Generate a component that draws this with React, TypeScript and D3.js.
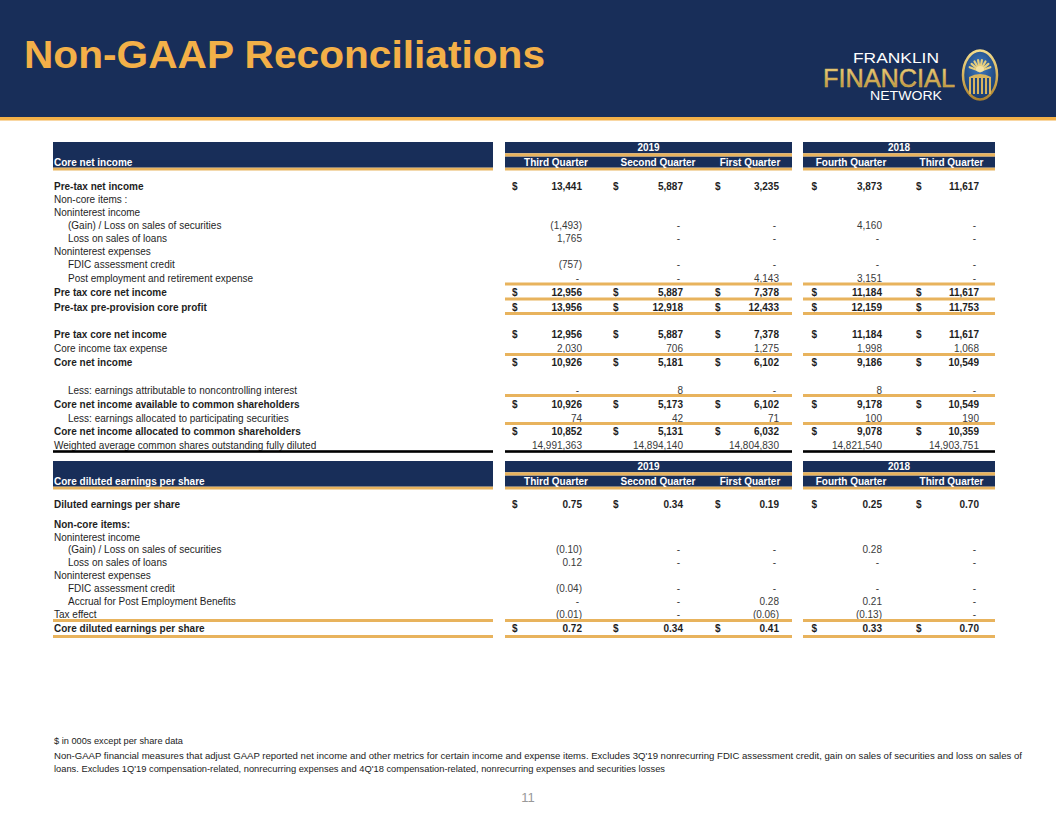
import React from "react";
import * as d3 from "d3";

// ---------- data ----------
const years = ["2019", "2018"];
const quarters = ["Third Quarter", "Second Quarter", "First Quarter", "Fourth Quarter", "Third Quarter"];

// Table 1: Core net income ($ in 000s)
const preTaxNetIncome = [13441, 5887, 3235, 3873, 11617];
const gainLossSecurities = [-1493, 0, 0, 4160, 0];
const lossSalesLoans = [1765, 0, 0, 0, 0];
const fdicCredit = [-757, 0, 0, 0, 0];
const postEmployment = [0, 0, 4143, 3151, 0];
const preTaxCoreNetIncome = [12956, 5887, 7378, 11184, 11617];
const preProvisionCoreProfit = [13956, 12918, 12433, 12159, 11753];
const coreIncomeTax = [2030, 706, 1275, 1998, 1068];
const coreNetIncome = [10926, 5181, 6102, 9186, 10549];
const nonControlling = [0, 8, 0, 8, 0];
const coreAvailable = [10926, 5173, 6102, 9178, 10549];
const participating = [74, 42, 71, 100, 190];
const coreAllocated = [10852, 5131, 6032, 9078, 10359];
const weightedShares = [14991363, 14894140, 14804830, 14821540, 14903751];

// Table 2: Core diluted earnings per share
const dilutedEps = [0.75, 0.34, 0.19, 0.25, 0.7];
const epsGainLoss = [-0.1, 0, 0, 0.28, 0];
const epsLossLoans = [0.12, 0, 0, 0, 0];
const epsFdic = [-0.04, 0, 0, 0, 0];
const epsAccrual = [0, 0, 0.28, 0.21, 0];
const epsTaxEffect = [-0.01, 0, -0.06, -0.13, 0];
const coreDilutedEps = [0.72, 0.34, 0.41, 0.33, 0.7];

const footnotes = [
  "$ in 000s except per share data",
  "Non-GAAP financial measures that adjust GAAP reported net income and other metrics for certain income and expense items. Excludes 3Q'19 nonrecurring FDIC assessment credit, gain on sales of securities and loss on sales of",
  "loans. Excludes 1Q'19 compensation-related, nonrecurring expenses and 4Q'18 compensation-related, nonrecurring expenses and securities losses",
];

type Row = {
  label: string;
  values?: number[];
  bold?: boolean;
  indent?: boolean;
  dollar?: boolean;
};

const table1Rows: Row[] = [
  { label: "Pre-tax net income", values: preTaxNetIncome, bold: true, dollar: true },
  { label: "Non-core items :" },
  { label: "Noninterest income" },
  { label: "(Gain) / Loss on sales of securities", values: gainLossSecurities, indent: true },
  { label: "Loss on sales of loans", values: lossSalesLoans, indent: true },
  { label: "Noninterest expenses" },
  { label: "FDIC assessment credit", values: fdicCredit, indent: true },
  { label: "Post employment and retirement expense", values: postEmployment, indent: true },
  { label: "Pre tax core net income", values: preTaxCoreNetIncome, bold: true, dollar: true },
  { label: "Pre-tax pre-provision core profit", values: preProvisionCoreProfit, bold: true, dollar: true },
  { label: "Pre tax core net income", values: preTaxCoreNetIncome, bold: true, dollar: true },
  { label: "Core income tax expense", values: coreIncomeTax },
  { label: "Core net income", values: coreNetIncome, bold: true, dollar: true },
  { label: "Less: earnings attributable to noncontrolling interest", values: nonControlling, indent: true },
  { label: "Core net income available to common shareholders", values: coreAvailable, bold: true, dollar: true },
  { label: "Less: earnings allocated to participating securities", values: participating, indent: true },
  { label: "Core net income allocated to common shareholders", values: coreAllocated, bold: true, dollar: true },
  { label: "Weighted average common shares outstanding fully diluted", values: weightedShares },
];

const table2Rows: Row[] = [
  { label: "Diluted earnings per share", values: dilutedEps, bold: true, dollar: true },
  { label: "Non-core items:", bold: true },
  { label: "Noninterest income" },
  { label: "(Gain) / Loss on sales of securities", values: epsGainLoss, indent: true },
  { label: "Loss on sales of loans", values: epsLossLoans, indent: true },
  { label: "Noninterest expenses" },
  { label: "FDIC assessment credit", values: epsFdic, indent: true },
  { label: "Accrual for Post Employment Benefits", values: epsAccrual, indent: true },
  { label: "Tax effect", values: epsTaxEffect },
  { label: "Core diluted earnings per share", values: coreDilutedEps, bold: true, dollar: true },
];

// ---------- layout ----------
const W = 1056;
const H = 816;
const NAVY = "#182e59";
const GOLD = "#f3b048";
const LINE_GOLD = "#e8b35d";
const FONT = "Arial, 'Liberation Sans', Helvetica, sans-serif";

const labelX0 = 53;
const labelX1 = 493;
const blocks = [
  { year: years[0], x0: 505, x1: 792, cols: [0, 1, 2] },
  { year: years[1], x0: 803, x1: 995, cols: [3, 4] },
];
const colDollarX = [512, 613, 715, 811.5, 916];
const colValueX = [582, 683, 779, 882, 979];
const colCenterX = [556, 658, 750, 851, 951.5];

const table1Top = 142;
const table1RowY = [186, 199, 212.5, 225.7, 238.5, 251.7, 264.5, 278.5, 292, 307, 334.3, 348.5, 362.5, 390, 404, 418, 431, 445];
const table1GoldLines = [284, 299, 313.5, 354.5, 395.5, 423.5];
const table1BlackLine = 451.5;

const table2Top = 461;
const table2RowY = [504, 524, 537, 549.7, 562.3, 575, 588.3, 601.7, 614.3, 628.3];
const table2GoldLines = [620.5, 636.5];

const fmtInt = d3.format(",");
const fmtEps = d3.format(".2f");

function fmtValue(v: number, eps: boolean) {
  if (v === 0) return "-";
  const s = eps ? fmtEps(Math.abs(v)) : fmtInt(Math.abs(v));
  return v < 0 ? `(${s})` : s;
}

function Header({ top, title }: { top: number; title: string }) {
  const yBandH = 11.3;
  const gold1 = 3.4;
  const qBandH = 11;
  const gold2 = 2.8;
  const totalDark = yBandH + gold1 + qBandH;
  return (
    <g>
      <rect x={labelX0} y={top} width={labelX1 - labelX0} height={totalDark} fill={NAVY} />
      <rect x={labelX0} y={top + totalDark} width={labelX1 - labelX0} height={gold2} fill={LINE_GOLD} />
      <text x={labelX0 + 1} y={top + totalDark - 2} fill="#fff" fontSize={10} fontWeight="bold" fontFamily={FONT}>
        {title}
      </text>
      {blocks.map((b) => (
        <g key={b.year}>
          <rect x={b.x0} y={top} width={b.x1 - b.x0} height={yBandH} fill={NAVY} />
          <rect x={b.x0} y={top + yBandH} width={b.x1 - b.x0} height={gold1} fill={LINE_GOLD} />
          <rect x={b.x0} y={top + yBandH + gold1} width={b.x1 - b.x0} height={qBandH} fill={NAVY} />
          <rect x={b.x0} y={top + totalDark} width={b.x1 - b.x0} height={gold2} fill={LINE_GOLD} />
          <text
            x={(b.x0 + b.x1) / 2}
            y={top + yBandH - 2}
            textAnchor="middle"
            fill="#fff"
            fontSize={10}
            fontWeight="bold"
            fontFamily={FONT}
          >
            {b.year}
          </text>
          {b.cols.map((c) => (
            <text
              key={c}
              x={colCenterX[c]}
              y={top + totalDark - 2}
              textAnchor="middle"
              fill="#fff"
              fontSize={10}
              fontWeight="bold"
              fontFamily={FONT}
            >
              {quarters[c]}
            </text>
          ))}
        </g>
      ))}
    </g>
  );
}

function Rows({ rows, ys, eps }: { rows: Row[]; ys: number[]; eps: boolean }) {
  return (
    <g fontFamily={FONT} fontSize={10}>
      {rows.map((r, i) => {
        const y = ys[i] + 3.6;
        return (
          <g key={i}>
            <text
              x={r.indent ? 68 : 54}
              y={y}
              fill="#1e1e1e"
              fontWeight={r.bold ? "bold" : "normal"}
            >
              {r.label}
            </text>
            {r.values &&
              r.values.map((v, c) => {
                const s = fmtValue(v, eps);
                return (
                  <g key={c}>
                    {r.dollar && (
                      <text x={colDollarX[c]} y={y} fill="#1e1e1e" fontWeight="bold">
                        $
                      </text>
                    )}
                    <text
                      x={s === "-" ? colValueX[c] - 3 : colValueX[c]}
                      y={y}
                      textAnchor="end"
                      fill={r.bold ? "#1e1e1e" : "#3a3a3a"}
                      fontWeight={r.bold ? "bold" : "normal"}
                    >
                      {s}
                    </text>
                  </g>
                );
              })}
          </g>
        );
      })}
    </g>
  );
}

function Logo() {
  const cx = 980;
  const cy = 75;
  const rays = d3.range(-70, 71, 20);
  const stripes = d3.range(-8, 9, 4);
  return (
    <g>
      <defs>
        <linearGradient id="goldGrad" x1="0" y1="0" x2="0" y2="1">
          <stop offset="0" stopColor="#f3dc8c" />
          <stop offset="0.5" stopColor="#d8b45c" />
          <stop offset="1" stopColor="#a9802e" />
        </linearGradient>
        <radialGradient id="embFill" cx="0.5" cy="0.35" r="0.7">
          <stop offset="0" stopColor="#3f7ac0" />
          <stop offset="1" stopColor="#143566" />
        </radialGradient>
      </defs>
      <text x={853} y={63} fill="#fff" fontSize={15} fontFamily={FONT} textLength={86} lengthAdjust="spacingAndGlyphs">
        FRANKLIN
      </text>
      <text
        x={823}
        y={87}
        fill="url(#goldGrad)"
        stroke="#d8b45c"
        strokeWidth={0.5}
        fontSize={26}
        fontFamily={FONT}
        textLength={132}
        lengthAdjust="spacingAndGlyphs"
      >
        FINANCIAL
      </text>
      <text x={870} y={99.5} fill="#fff" fontSize={12.5} fontFamily={FONT} textLength={72} lengthAdjust="spacingAndGlyphs">
        NETWORK
      </text>
      <ellipse cx={cx} cy={cy} rx={17} ry={24.5} fill="url(#embFill)" stroke="url(#goldGrad)" strokeWidth={2.5} />
      {rays.map((a) => {
        const rad = ((a - 90) * Math.PI) / 180;
        return (
          <path
            key={a}
            d={`M${cx},${cy - 4} L${cx + Math.cos(rad) * 11},${cy - 4 + Math.sin(rad) * 11}`}
            stroke="#e9cf7c"
            strokeWidth={2.2}
            strokeLinecap="round"
          />
        );
      })}
      <ellipse cx={cx} cy={cy - 6} rx={4} ry={3} fill="#f4e1a0" />
      <path d={`M${cx - 11},${cy + 2} Q${cx},${cy - 4} ${cx + 11},${cy + 2} L${cx + 11},${cy + 19} L${cx - 11},${cy + 19} Z`} fill="#d8b45c" />
      {stripes.map((s) => (
        <rect key={s} x={cx + s - 1} y={cy + 3} width={2} height={16} fill="#1d447e" />
      ))}
    </g>
  );
}

export default function App() {
  return (
    <svg
      width={W}
      height={H}
      viewBox={`0 0 ${W} ${H}`}
      style={{ position: "absolute", left: 0, top: 0, background: "#fff" }}
    >
      <rect x={0} y={0} width={W} height={H} fill="#fff" />
      {/* title band */}
      <rect x={0} y={0} width={W} height={117} fill={NAVY} />
      <rect x={0} y={117} width={W} height={3.5} fill={GOLD} />
      <text
        x={24}
        y={68}
        fill={GOLD}
        fontSize={38}
        fontWeight="bold"
        fontFamily={FONT}
        textLength={521}
        lengthAdjust="spacingAndGlyphs"
      >
        Non-GAAP Reconciliations
      </text>
      <Logo />

      {/* table 1 */}
      <Header top={table1Top} title="Core net income" />
      <Rows rows={table1Rows} ys={table1RowY} eps={false} />
      {table1GoldLines.map((y, i) => (
        <g key={i}>
          {blocks.map((b) => (
            <rect key={b.year} x={b.x0} y={y - 1.5} width={b.x1 - b.x0} height={3} fill={LINE_GOLD} />
          ))}
        </g>
      ))}
      <rect x={labelX0} y={table1BlackLine - 1.3} width={labelX1 - labelX0} height={2.6} fill="#000" />
      {blocks.map((b) => (
        <rect key={b.year} x={b.x0} y={table1BlackLine - 1.3} width={b.x1 - b.x0} height={2.6} fill="#000" />
      ))}

      {/* table 2 */}
      <Header top={table2Top} title="Core diluted earnings per share" />
      <Rows rows={table2Rows} ys={table2RowY} eps={true} />
      {table2GoldLines.map((y, i) => (
        <g key={i}>
          <rect x={labelX0} y={y - 1.5} width={labelX1 - labelX0} height={3} fill={LINE_GOLD} />
          {blocks.map((b) => (
            <rect key={b.year} x={b.x0} y={y - 1.5} width={b.x1 - b.x0} height={3} fill={LINE_GOLD} />
          ))}
        </g>
      ))}

      {/* footnotes */}
      <g fontFamily={FONT} fontSize={9} fill="#222">
        <text x={54} y={744} textLength={129} lengthAdjust="spacingAndGlyphs">
          {footnotes[0]}
        </text>
        <text x={54} y={759} textLength={968} lengthAdjust="spacingAndGlyphs">
          {footnotes[1]}
        </text>
        <text x={54} y={772} textLength={611} lengthAdjust="spacingAndGlyphs">
          {footnotes[2]}
        </text>
      </g>
      <text x={528} y={802} textAnchor="middle" fill="#999" fontSize={13} fontFamily={FONT}>
        11
      </text>
    </svg>
  );
}
